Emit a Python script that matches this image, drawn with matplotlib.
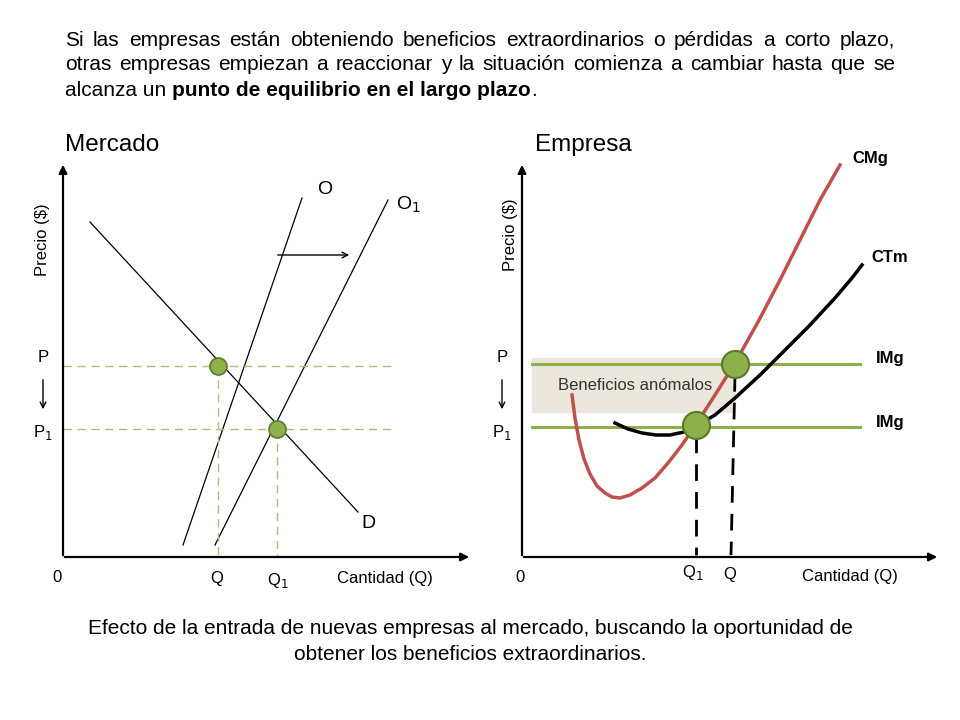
import numpy as np
import matplotlib
matplotlib.use("Agg")
import matplotlib.pyplot as plt

plt.rcParams["font.family"] = "Liberation Sans"

# --- data (drawing units of the slide, y grows downward) ---
demand_x = [90, 358]
demand_y = [222, 512]
supply_x = [302, 183]
supply_y = [198, 545]
supply1_x = [388, 215]
supply1_y = [200, 545]
market_pts_x = [218, 277]
market_pts_y = [366, 429]

cmg_x = [572, 575, 579, 584, 590, 597, 605, 612, 620, 630, 642, 655, 668, 682, 697, 715, 735, 758, 780, 800, 820, 840]
cmg_y = [395, 418, 440, 459, 474, 486, 493, 497, 498, 495, 488, 478, 463, 445, 423, 395, 363, 322, 280, 240, 200, 165]
ctm_x = [615, 628, 642, 656, 670, 684, 698, 715, 735, 760, 785, 810, 835, 852, 862]
ctm_y = [423, 429, 433, 435, 435, 432, 425, 415, 398, 375, 350, 325, 298, 278, 265]
img_levels = [364, 427]
firm_pts_x = [735, 696]
firm_pts_y = [364, 425]

fig = plt.figure(figsize=(9.6, 7.2), dpi=100)
ax = fig.add_axes([0, 0, 1, 1])
ax.set_xlim(0, 960)
ax.set_ylim(720, 0)
ax.axis("off")
renderer = fig.canvas.get_renderer()

arrow = dict(arrowstyle="-|>", color="black", lw=1.6, mutation_scale=12)
green = "#8cb04a"
dash_green = "#a8bf7a"
LBL = 12


def justify(line, y, x0=65, x1=895, size=15):
    words = line.split()
    arts = [ax.text(0, y, w, fontsize=size, va="center") for w in words]
    widths = [a.get_window_extent(renderer).width for a in arts]
    gap = (x1 - x0 - sum(widths)) / (len(words) - 1)
    x = x0
    for a, w in zip(arts, widths):
        a.set_x(x)
        x += w + gap


# ---------- Mercado ----------
ax.annotate("", xy=(472, 557), xytext=(62, 557), arrowprops=arrow)
ax.annotate("", xy=(63, 162), xytext=(63, 558), arrowprops=arrow)
ax.plot(demand_x, demand_y, color="black", lw=0.9)
ax.plot(supply_x, supply_y, color="black", lw=0.9)
ax.plot(supply1_x, supply1_y, color="black", lw=0.9)
for px, py in zip(market_pts_x, market_pts_y):
    ax.plot([63, 392], [py, py], color=dash_green, lw=1, ls=(0, (6, 4)))
    ax.plot([px, px], [py, 557], color=dash_green, lw=1, ls=(0, (6, 4)))
ax.scatter(market_pts_x, market_pts_y, s=150, color=green, edgecolor="#5a7a2a",
           lw=1.2, zorder=5)
ax.annotate("", xy=(352, 255), xytext=(275, 255),
            arrowprops=dict(arrowstyle="->", color="black", lw=1))
ax.annotate("", xy=(43, 412), xytext=(43, 377),
            arrowprops=dict(arrowstyle="->", color="black", lw=1))
ax.text(325, 190, "O", fontsize=14, ha="center", va="center")
ax.text(408, 205, "O$_1$", fontsize=14, ha="center", va="center")
ax.text(368, 524, "D", fontsize=14, ha="center", va="center")
ax.text(43, 358, "P", fontsize=LBL, ha="center", va="center")
ax.text(43, 432, "P$_1$", fontsize=LBL, ha="center", va="center")
ax.text(57, 578, "0", fontsize=LBL, ha="center", va="center")
ax.text(217, 578, "Q", fontsize=LBL, ha="center", va="center")
ax.text(278, 580, "Q$_1$", fontsize=LBL, ha="center", va="center")
ax.text(385, 578, "Cantidad (Q)", fontsize=LBL, ha="center", va="center")
ax.text(42, 240, "Precio ($)", fontsize=LBL, rotation=90, ha="center", va="center")
ax.text(65, 145, "Mercado", fontsize=17.5, ha="left", va="center")

# ---------- Empresa ----------
ax.annotate("", xy=(940, 557), xytext=(521, 557), arrowprops=arrow)
ax.annotate("", xy=(522, 162), xytext=(522, 558), arrowprops=arrow)
ax.fill_between([532, 735], 358, 412, color="#ebe7dc", zorder=0)
ax.text(635, 385, "Beneficios anómalos", fontsize=LBL, ha="center", va="center",
        color="#333333")
for lvl in img_levels:
    ax.plot([532, 860], [lvl, lvl], color=green, lw=2.2)
ax.plot(cmg_x, cmg_y, color="#c0504d", lw=2.5)
ax.plot(ctm_x, ctm_y, color="black", lw=2.5)
ax.plot([735, 731], [375, 555], color="black", lw=2, ls=(0, (6, 4)))
ax.plot([696, 696], [436, 555], color="black", lw=2, ls=(0, (6, 4)))
ax.scatter(firm_pts_x, firm_pts_y, s=380, color=green, edgecolor="#5a7a2a",
           lw=1.5, zorder=5)
ax.annotate("", xy=(502, 412), xytext=(502, 377),
            arrowprops=dict(arrowstyle="->", color="black", lw=1))
ax.text(870, 158, "CMg", fontsize=12, fontweight="bold", ha="center", va="center")
ax.text(890, 258, "CTm", fontsize=12, fontweight="bold", ha="center", va="center")
ax.text(890, 358, "IMg", fontsize=12, fontweight="bold", ha="center", va="center")
ax.text(890, 423, "IMg", fontsize=12, fontweight="bold", ha="center", va="center")
ax.text(502, 357, "P", fontsize=LBL, ha="center", va="center")
ax.text(502, 432, "P$_1$", fontsize=LBL, ha="center", va="center")
ax.text(520, 577, "0", fontsize=LBL, ha="center", va="center")
ax.text(693, 573, "Q$_1$", fontsize=LBL, ha="center", va="center")
ax.text(730, 574, "Q", fontsize=LBL, ha="center", va="center")
ax.text(850, 577, "Cantidad (Q)", fontsize=LBL, ha="center", va="center")
ax.text(510, 235, "Precio ($)", fontsize=LBL, rotation=90, ha="center", va="center")
ax.text(535, 145, "Empresa", fontsize=17.5, ha="left", va="center")

# ---------- texts ----------
justify("Si las empresas están obteniendo beneficios extraordinarios o pérdidas a corto plazo,", 40)
justify("otras empresas empiezan a reaccionar y la situación comienza a cambiar hasta que se", 65)
t1 = ax.text(65, 90, "alcanza un ", fontsize=15, ha="left", va="center")
t2 = ax.annotate("punto de equilibrio en el largo plazo", xy=(1, 0.5), xycoords=t1,
                 fontsize=15, fontweight="bold", ha="left", va="center")
ax.annotate(".", xy=(1, 0.5), xycoords=t2, fontsize=15, ha="left", va="center")
ax.text(470, 628, "Efecto de la entrada de nuevas empresas al mercado, buscando la oportunidad de",
        fontsize=15, ha="center", va="center")
ax.text(470, 654, "obtener los beneficios extraordinarios.",
        fontsize=15, ha="center", va="center")

fig.savefig("out.png", dpi=100)
